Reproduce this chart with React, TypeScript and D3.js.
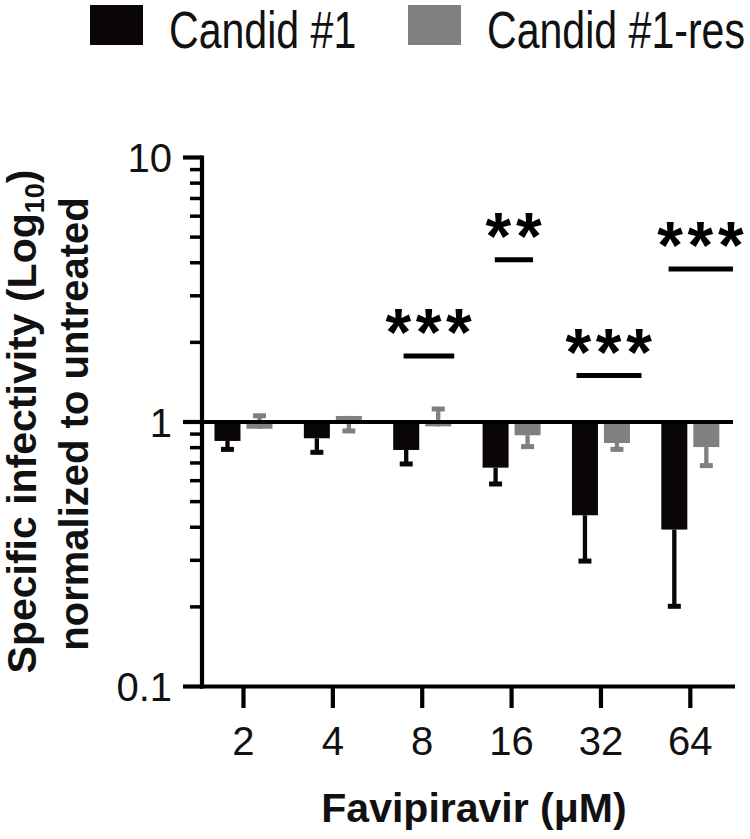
import React from "react";
import { scaleBand, scaleLog, range } from "d3";

// values (fold change vs untreated)
const categories = ["2", "4", "8", "16", "32", "64"];
const seriesNames = ["Candid #1", "Candid #1-res"];
const seriesColors = ["#0a0606", "#808080"];
const candidMean = [0.848, 0.868, 0.784, 0.672, 0.444, 0.392];
const candidErr = [0.788, 0.768, 0.694, 0.583, 0.298, 0.201];
const resMean = [0.943, 1.054, 0.963, 0.891, 0.833, 0.804];
const resErr = [1.056, 0.925, 1.12, 0.807, 0.788, 0.684];
const yTicks = [0.1, 1, 10];
const yTickLabels = ["0.1", "1", "10"];

// significance annotations
const sigCategories = ["8", "16", "32", "64"];
const sigLabels = ["***", "**", "***", "***"];
const sigLevels = [1.776, 4.11, 1.499, 3.79];
const sigShift = [0.075, 0.026, 0.09, 0.117]; // fraction of band step
const sigSpan = [0.567, 0.428, 0.727, 0.72];

const FONT = "'Liberation Sans', Arial, Helvetica, sans-serif";

export default function App() {
  const W = 750;
  const H = 839;
  const axisX = 202;

  const x = scaleBand<string>().domain(categories).range([198.8, 735]).padding(0);
  const step = x.step();
  const xSub = scaleBand<number>().domain([0, 1]).range([0, 58]).paddingInner(0.1875).paddingOuter(0);
  const y = scaleLog().domain([0.1, 10]).range([686.5, 157.5]);

  const minorTicks = range(2, 10).flatMap(k => [k * 0.1, k]);
  const series = [
    { mean: candidMean, err: candidErr },
    { mean: resMean, err: resErr },
  ];
  const y1 = y(1);
  const legendX = [90, 408];

  return (
    <svg width={W} height={H} style={{ position: "absolute", left: 0, top: 0, background: "#fff" }}
      fontFamily={FONT}>
      {/* legend (narrow type) */}
      {seriesNames.map((name, i) => (
        <g key={name}>
          <rect x={legendX[i]} y={5} width={53} height={40} fill={seriesColors[i]} />
          <g transform={`translate(${legendX[i] + 79},47.5) scale(0.79,1)`}>
            <text x={0} y={0} fontSize={52} fill="#111">{name}</text>
          </g>
        </g>
      ))}

      {/* bars + error bars */}
      {series.map((s, si) => (
        <g key={si} fill={seriesColors[si]}>
          {categories.map((c, i) => {
            const bx = (x(c) as number) + step / 2 - 29 + (xSub(si) as number);
            const bw = xSub.bandwidth();
            const ym = y(s.mean[i]);
            const ye = y(s.err[i]);
            const cx = bx + bw / 2;
            return (
              <g key={c}>
                <line x1={cx} x2={cx} y1={ym} y2={ye} stroke={seriesColors[si]} strokeWidth={4.3} />
                <rect x={cx - 6.5} y={ye - 2.5} width={13} height={5} />
                <rect x={bx} y={Math.min(ym, y1)} width={bw} height={Math.abs(ym - y1)} />
              </g>
            );
          })}
        </g>
      ))}

      {/* baseline at 1 */}
      <line x1={axisX} x2={733} y1={y1} y2={y1} stroke="#000" strokeWidth={4.2} />

      {/* y axis */}
      <line x1={axisX} x2={axisX} y1={155.5} y2={688.5} stroke="#000" strokeWidth={4.2} />
      {minorTicks.map(t => (
        <line key={t} x1={axisX - 12} x2={axisX} y1={y(t)} y2={y(t)} stroke="#000" strokeWidth={3.5} />
      ))}
      {yTicks.map((t, i) => (
        <g key={t}>
          <line x1={183} x2={axisX} y1={y(t)} y2={y(t)} stroke="#000" strokeWidth={4.2} />
          <text x={172} y={y(t) + 14.5} textAnchor="end" fontSize={40} fill="#111">{yTickLabels[i]}</text>
        </g>
      ))}

      {/* x axis */}
      <line x1={axisX - 2} x2={735} y1={686.5} y2={686.5} stroke="#000" strokeWidth={4.2} />
      {categories.map(c => {
        const cx = (x(c) as number) + step / 2;
        return (
          <g key={c}>
            <line x1={cx} x2={cx} y1={686.5} y2={708} stroke="#000" strokeWidth={4.2} />
            <text x={cx} y={755} textAnchor="middle" fontSize={40} fill="#111">{c}</text>
          </g>
        );
      })}

      {/* significance */}
      {sigCategories.map((c, i) => {
        const cx = (x(c) as number) + step / 2 + sigShift[i] * step;
        const half = (sigSpan[i] * step) / 2;
        const ly = y(sigLevels[i]);
        return (
          <g key={c}>
            <line x1={cx - half} x2={cx + half} y1={ly} y2={ly} stroke="#000" strokeWidth={5} />
            <text x={cx + 2} y={ly - 1} textAnchor="middle" fontSize={66} fontWeight="bold"
              letterSpacing={4.6} fill="#000">{sigLabels[i]}</text>
          </g>
        );
      })}

      {/* axis titles */}
      <text x={474} y={822} textAnchor="middle" fontSize={41} fontWeight="bold" fill="#111">
        Favipiravir (μM)
      </text>
      <g transform="translate(36,421.5) rotate(-90)">
        <text textAnchor="middle" fontSize={41} fontWeight="bold" fill="#111">
          Specific infectivity (Log<tspan fontSize={27} dy={8}>10</tspan><tspan dy={-8}>)</tspan>
        </text>
      </g>
      <g transform="translate(88,424) rotate(-90)">
        <text textAnchor="middle" fontSize={40} fontWeight="bold" fill="#111">
          normalized to untreated
        </text>
      </g>
    </svg>
  );
}
